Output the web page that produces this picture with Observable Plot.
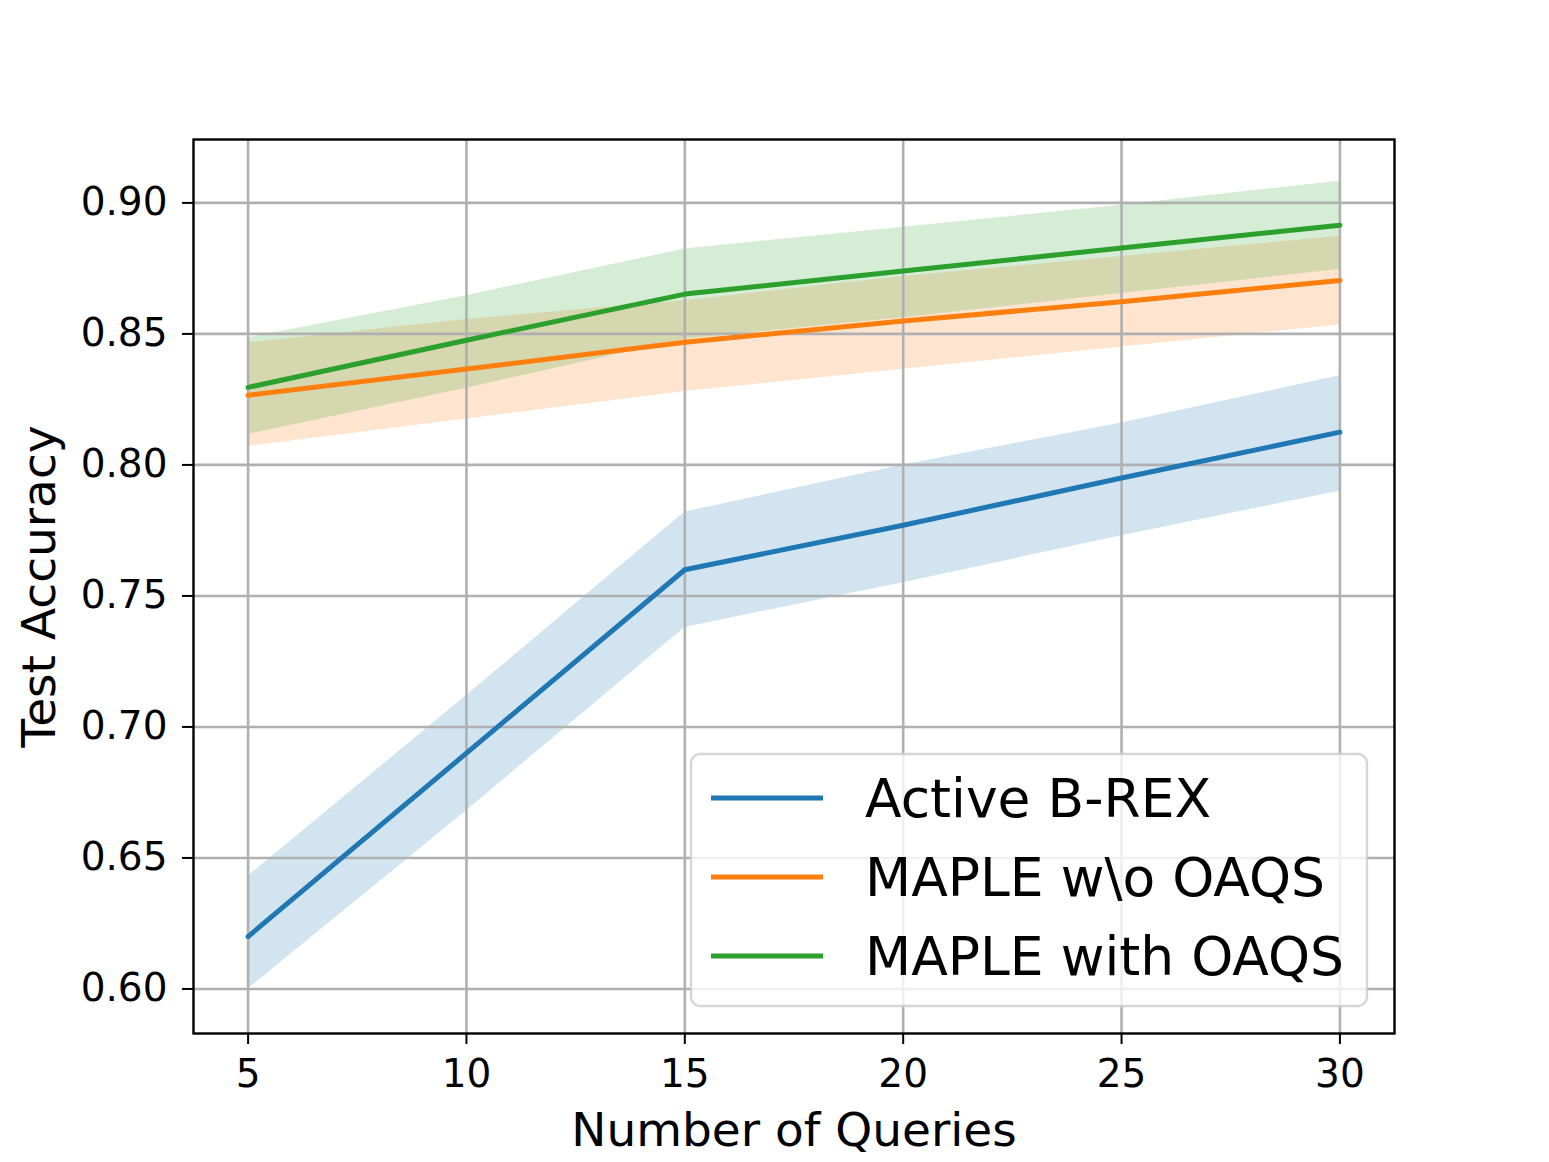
<!DOCTYPE html>
<html>
<head>
<meta charset="utf-8">
<script src="https://cdn.jsdelivr.net/npm/d3@7"></script>
<script src="https://cdn.jsdelivr.net/npm/@observablehq/plot@0.6"></script>
<style>
  html, body { margin: 0; padding: 0; background: #fff; }
  #chart svg { display: block; }
</style>
</head>
<body>
<div id="chart"></div>
<script>
// ---- data ----
const queries = [5, 10, 15, 20, 25, 30];
const seriesNames = ["Active B-REX", "MAPLE w\\o OAQS", "MAPLE with OAQS"];
const seriesColors = ["#1f77b4", "#ff7f0e", "#2ca02c"];

const bBrexMean = [0.620, 0.690, 0.760, 0.777, 0.795, 0.8125];
const bBrexLow  = [0.600, 0.668, 0.738, 0.755, 0.773, 0.790];
const bBrexHigh = [0.643, 0.712, 0.782, 0.800, 0.816, 0.834];

const woMean = [0.8266, 0.8366, 0.8468, 0.8549, 0.8623, 0.8704];
const woLow  = [0.8070, 0.8175, 0.8280, 0.8365, 0.8450, 0.8534];
const woHigh = [0.8466, 0.8555, 0.8627, 0.8719, 0.8795, 0.8873];

const withMean = [0.8296, 0.8476, 0.8652, 0.8740, 0.8828, 0.8915];
const withLow  = [0.8117, 0.8293, 0.8480, 0.8562, 0.8654, 0.8746];
const withHigh = [0.8485, 0.8646, 0.8824, 0.8907, 0.8991, 0.9083];

const xTicks = [5, 10, 15, 20, 25, 30];
const yTicks = [0.60, 0.65, 0.70, 0.75, 0.80, 0.85, 0.90];

// ---- table built from arrays ----
const table = [];
[[bBrexMean, bBrexLow, bBrexHigh], [woMean, woLow, woHigh], [withMean, withLow, withHigh]]
  .forEach(([m, lo, hi], s) => {
    queries.forEach((q, i) => table.push({series: seriesNames[s], q, mean: m[i], lo: lo[i], hi: hi[i]}));
  });

const W = 1549, H = 1162;
const mL = 193, mR = 155, mT = 139, mB = 129;

const plot = Plot.plot({
  width: W,
  height: H,
  marginLeft: mL,
  marginRight: mR,
  marginTop: mT,
  marginBottom: mB,
  style: {fontFamily: "DejaVu Sans", background: "white", color: "black"},
  x: {domain: [3.75, 31.25]},
  y: {domain: [0.583, 0.9242]},
  color: {domain: seriesNames, range: seriesColors},
  marks: [
    Plot.areaY(table, {x: "q", y1: "lo", y2: "hi", z: "series", fill: "series", fillOpacity: 0.2, curve: "linear"}),
    Plot.gridX({ticks: xTicks, stroke: "#b0b0b0", strokeOpacity: 1, strokeWidth: 2.6}),
    Plot.gridY({ticks: yTicks, stroke: "#b0b0b0", strokeOpacity: 1, strokeWidth: 2.6}),
    Plot.line(table, {x: "q", y: "mean", z: "series", stroke: "series", strokeWidth: 5, curve: "linear"}),
    Plot.frame({stroke: "black", strokeWidth: 2.4}),
    Plot.axisX({ticks: xTicks, tickSize: 11, tickPadding: 15, fontSize: 39, strokeWidth: 2,
      label: "Number of Queries", labelAnchor: "center", labelArrow: "none", labelOffset: 112}),
    Plot.axisY({ticks: yTicks, tickSize: 11, tickPadding: 15, fontSize: 39, strokeWidth: 2,
      tickFormat: d3.format(".2f"),
      label: "Test Accuracy", labelAnchor: "center", labelArrow: "none", labelOffset: 172})
  ]
});

// enlarge axis label fonts
d3.select(plot).selectAll("g[aria-label='x-axis label'] text, g[aria-label='y-axis label'] text")
  .attr("font-size", 47);

// ---- legend ----
const svg = d3.select(plot);
const lg = svg.append("g").attr("font-family", "DejaVu Sans").attr("text-anchor", "start");
lg.append("rect")
  .attr("x", 691).attr("y", 754).attr("width", 676).attr("height", 252)
  .attr("rx", 9).attr("ry", 9)
  .attr("fill", "white").attr("fill-opacity", 0.8)
  .attr("stroke", "#cccccc").attr("stroke-opacity", 0.8).attr("stroke-width", 2.4);
const rowY = [798, 877, 956];
seriesNames.forEach((name, i) => {
  lg.append("line")
    .attr("x1", 711).attr("x2", 823).attr("y1", rowY[i]).attr("y2", rowY[i])
    .attr("stroke", seriesColors[i]).attr("stroke-width", 5);
  lg.append("text")
    .attr("x", 865).attr("y", rowY[i] + 19)
    .attr("text-anchor", "start")
    .attr("font-size", 53.5).attr("fill", "black")
    .text(name);
});

document.getElementById("chart").appendChild(plot);
</script>
</body>
</html>
